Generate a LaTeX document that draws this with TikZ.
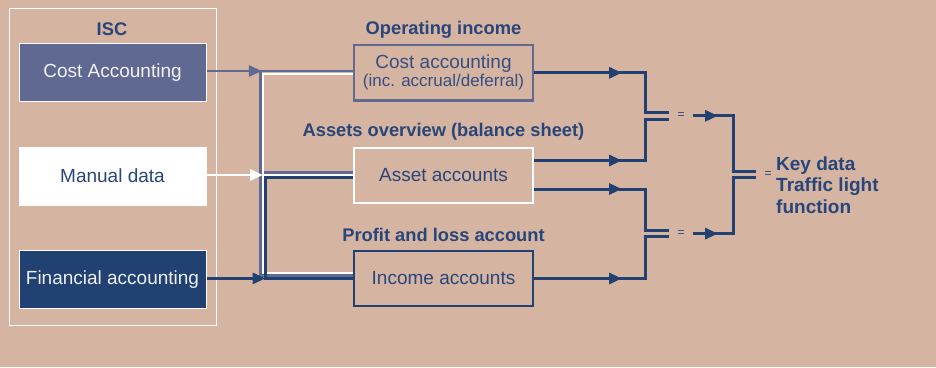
\documentclass[tikz,border=0pt]{standalone}
\usepackage{fontspec}
\setmainfont{Liberation Sans}
\usetikzlibrary{positioning, arrows.meta}

\definecolor{sand}{RGB}{213,180,161}
\definecolor{costblue}{RGB}{95,105,145}
\definecolor{finblue}{RGB}{34,65,115}
\definecolor{inkblue}{RGB}{40,70,122}

\begin{document}
\begin{tikzpicture}[x=1pt, y=-1pt,
    src/.style = {rectangle, draw=white, line width=1pt, minimum width=187pt,
      minimum height=58pt, inner sep=0pt, font=\fontsize{19}{22}\selectfont},
    ledger/.style = {rectangle, line width=2.2pt, minimum width=179pt,
      minimum height=55.5pt, inner sep=0pt, text=inkblue, align=center,
      font=\fontsize{19}{20}\selectfont},
    head/.style = {font=\bfseries\fontsize{18.3}{22}\selectfont, text=inkblue},
    bus/.style = {line width=2.6pt},
    flow/.style = {draw=finblue, line width=3pt},
    tip/.style = {-{Triangle[length=13pt,width=11pt]}},
    eqsign/.style = {font=\fontsize{12}{12}\selectfont, text=inkblue, inner sep=8pt},
  ]
\useasboundingbox (0,0) rectangle (936,367);
\fill[sand] (0,0) rectangle (936,367);

% source systems
\node[draw=white, line width=1pt, minimum width=207pt, minimum height=317pt] (isc) at (113,167) {};
\node[head] (isclabel) at (112,29) {ISC};
\node[src, fill=costblue, text=white!92!costblue] (cacc) at (112.5,72.2) {Cost Accounting};
\node[src, fill=white, text=inkblue] (man) at (112.5,176) {Manual data};
\node[src, fill=finblue, text=white!92!finblue] (fin) at (112.5,279.5) {Financial accounting};

% ledgers
\node[ledger, draw=costblue, text=inkblue!75!costblue] (cst) at (443.5,72.8)
    {Cost accounting\\[-2pt]{\fontsize{17}{18}\selectfont(inc. accrual/deferral)}};
\node[ledger, draw=white] (ast) at (443.5,175.5) {Asset accounts};
\node[ledger, draw=finblue] (inc) at (443.5,278.5) {Income accounts};

\node[head] (hcst) at (443.5,30) {Operating income};
\node[head] (hast) at (443.5,131.5) {Assets overview (balance sheet)};
\node[head] (hinc) at (443.5,234.5) {Profit and loss account};

% bus corners
\coordinate (lbT) at (260.4,71);
\coordinate (lbM) at (260.4,172.3);
\coordinate (lbB) at (260.4,275.7);
\coordinate (wT) at (263,73.8);
\coordinate (wM) at (263,175);
\coordinate (wB) at (263,273);
\coordinate (dbM) at (265.6,177.7);
\coordinate (dbB) at (265.6,278.4);

\draw[bus, costblue] (cst.west |- lbT) -- (lbT) -- (lbB) -- (inc.west |- lbB);
\draw[bus, costblue] (lbM) -- (ast.west |- lbM);
\draw[bus, white] (cst.west |- wT) -- (wT) -- (wB) -- (inc.west |- wB);
\draw[bus, white] (wM) -- (ast.west |- wM);
\draw[bus, finblue] (ast.west |- dbM) -- (dbM) -- (dbB) -- (inc.west |- dbB);

\draw[bus, costblue, tip] (cacc.east |- lbT) -- ([xshift=1.5pt]lbT);
\draw[bus, white, tip] (man.east |- wM) -- (wM);
\draw[bus, finblue, tip] (fin.east |- dbB) -- (dbB);

% merging the ledgers
\coordinate (mA) at (622,0);
\coordinate (mB) at (718,0);
\coordinate (p1) at (645,112.7);
\coordinate (p2) at (645,119.3);
\coordinate (p3) at (645,230.7);
\coordinate (p4) at (645,236.7);
\coordinate (q1) at (733,171);
\coordinate (q2) at (733,177.7);
\coordinate (ast-up) at ([yshift=15pt]ast.east);
\coordinate (ast-dn) at ([yshift=-13.5pt]ast.east);

\node[eqsign] (eq1) at (681,115.8) {=};
\node[eqsign] (eq2) at (681,233.6) {=};
\node[eqsign] (eq3) at (768,175) {=};

\draw[flow] (cst.east) -| (p1) -- (p1 -| eq1.west);
\draw[flow] (ast-up) -| (p2) -- (p2 -| eq1.west);
\draw[flow] (ast-dn) -| (p3) -- (p3 -| eq2.west);
\draw[flow] (inc.east) -| (p4) -- (p4 -| eq2.west);
\draw[flow] (eq1.east) -| (q1) -- (q1 -| eq3.west);
\draw[flow] (eq2.east) -| (q2) -- (q2 -| eq3.west);

% arrow heads sit on the lines
\draw[flow, tip] (cst.east) -- (cst.east -| mA);
\draw[flow, tip] (ast-up) -- (ast-up -| mA);
\draw[flow, tip] (ast-dn) -- (ast-dn -| mA);
\draw[flow, tip] (inc.east) -- (inc.east -| mA);
\draw[flow, tip] (eq1.east) -- (eq1 -| mB);
\draw[flow, tip] (eq2.east) -- (eq2 -| mB);

\node[head, anchor=west, align=left, inner sep=0pt,
  font=\bfseries\fontsize{19}{21.5}\selectfont] (kd) at (776,185)
  {Key data\\Traffic light\\function};
\end{tikzpicture}
\end{document}
